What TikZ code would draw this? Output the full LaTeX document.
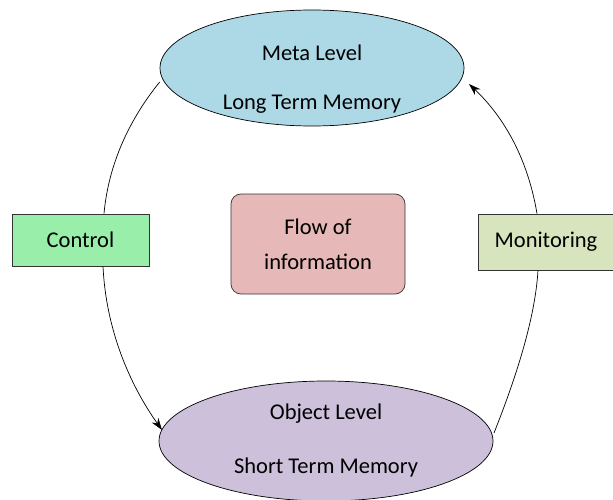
\documentclass[tikz,border=0pt]{standalone}
\usepackage{fontspec}
\setmainfont{Carlito}
\usetikzlibrary{shapes.geometric,arrows.meta}
\definecolor{metablue}{RGB}{173,216,230}
\definecolor{objpurple}{RGB}{204,192,218}
\definecolor{ctrlgreen}{RGB}{153,238,170}
\definecolor{monolive}{RGB}{215,228,189}
\definecolor{flowpink}{RGB}{230,184,183}
\tikzset{
  lvl/.style={ellipse, draw=black, line width=0.7pt, inner sep=0pt},
  boxnode/.style={rectangle, draw=black!80, line width=0.7pt, inner sep=0pt, font=\fontsize{22.5}{27}\selectfont},
  txt/.style={inner sep=0pt, font=\fontsize{22.5}{27}\selectfont},
  conn/.style={draw=black, line width=0.7pt},
  tip/.style={-{Stealth[length=12pt,width=8pt]}}
}
\begin{document}
\begin{tikzpicture}[x=1pt,y=-1pt]
\useasboundingbox (0,0) rectangle (613,500);
\node[lvl, fill=metablue, minimum width=304, minimum height=116] (meta) at (312,68) {};
\node[txt] (metaA) at (312,53) {Meta Level};
\node[txt] (metaB) at (312,104) {Long Term Memory};
\node[lvl, fill=objpurple, minimum width=334, minimum height=120] (obj) at (326,441) {};
\node[txt] (objA) at (326,414) {Object Level};
\node[txt] (objB) at (326,467) {Short Term Memory};
\node[boxnode, fill=ctrlgreen, minimum width=137, minimum height=52] (ctrl) at (80.5,240) {Control};
\node[boxnode, fill=monolive, minimum width=136, minimum height=56] (moni) at (546,242) {Monitoring};
\node[boxnode, fill=flowpink, rounded corners=10pt, minimum width=174, minimum height=100, align=center, font=\fontsize{22.5}{35}\selectfont] (flow) at (318,244) {Flow of\\information};
\draw[conn] (meta.west |- 0,82) .. controls (125,125) and (108,170) .. (ctrl.north -| 104,0);
\draw[conn, tip] (ctrl.south -| 103,0) .. controls (106,330) and (130,385) .. (162,430);
\draw[conn] (494,433) .. controls (515,380) and (535,320) .. (moni.south -| 538,0);
\draw[conn, tip] (moni.north -| 537,0) .. controls (528,160) and (505,118) .. (469,84);
\end{tikzpicture}
\end{document}
